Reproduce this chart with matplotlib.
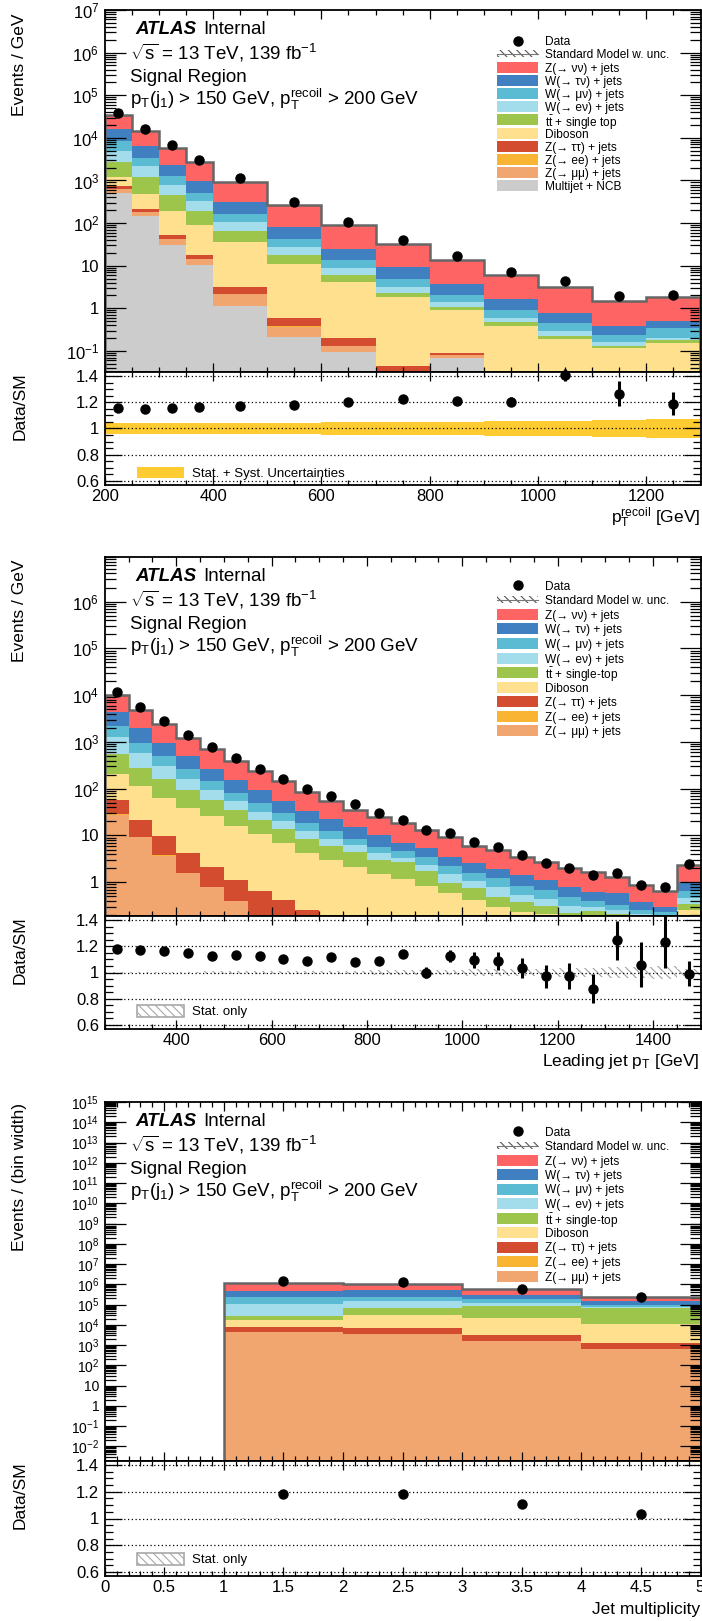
import numpy as np
import matplotlib
matplotlib.use("Agg")
import matplotlib.pyplot as plt
from matplotlib.patches import Rectangle
from matplotlib.lines import Line2D
from matplotlib.ticker import (LogLocator, FuncFormatter, MultipleLocator,
                               NullFormatter, FixedFormatter, FixedLocator)

plt.rcParams['font.family'] = ['Liberation Sans', 'DejaVu Sans']
plt.rcParams['mathtext.fontset'] = 'custom'
plt.rcParams['mathtext.rm'] = 'Liberation Sans'
plt.rcParams['mathtext.it'] = 'Liberation Sans:italic'
plt.rcParams['mathtext.bf'] = 'Liberation Sans:bold'
plt.rcParams['hatch.linewidth'] = 0.8

# ---------------------------------------------------------------- data
# Panel 1 : p_T^recoil
edges1 = [200, 250, 300, 350, 400, 500, 600, 700, 800, 900, 1000, 1100, 1200, 1300]
multijet1 = [500, 144, 30, 10.5, 1.12, 0.21, 0.093, 0, 0.067, 0, 0, 0, 0]
zmm1 = [115, 39, 12, 3.5, 1.0, 0.16, 0.037, 0, 0.014, 0, 0, 0, 0]
zee1 = [3, 1, 0.3, 0.1, 0.02, 0.005, 0.002, 0, 0.001, 0, 0, 0, 0]
ztt1 = [115, 30, 9, 4, 1.0, 0.23, 0.07, 0.045, 0.008, 0, 0, 0, 0]
dib1 = [500, 277, 143, 74, 31.9, 10.4, 4.0, 1.755, 0.82, 0.39, 0.19, 0.118, 0.155]
tt1 = [1470, 740, 272, 102, 30, 7, 1.8, 0.5, 0.16, 0.08, 0.03, 0.012, 0.023]
wev1 = [2200, 900, 324, 129, 40, 9, 2.7, 0.9, 0.31, 0.13, 0.08, 0.036, 0.022]
wmv1 = [3600, 1270, 470, 177, 61, 15, 4.6, 1.7, 0.72, 0.31, 0.16, 0.074, 0.15]
wtv1 = [7500, 2900, 1080, 460, 150, 39, 11.2, 4.2, 1.7, 0.71, 0.32, 0.15, 0.16]
znn1 = [18000, 7800, 3560, 1740, 614, 184, 64.5, 23.9, 10, 4.4, 2.3, 1.13, 1.29]
data1 = [39000, 16200, 6700, 3100, 1120, 308, 107, 41, 17, 7.3, 4.4, 1.95, 2.1]
ratio1 = [1.157, 1.152, 1.157, 1.165, 1.172, 1.177, 1.205, 1.225, 1.213, 1.203, 1.405, 1.266, 1.19]
ratio1_err = [0.006, 0.007, 0.009, 0.01, 0.011, 0.015, 0.017, 0.02, 0.022, 0.034, 0.045, 0.094, 0.09]
band1 = [0.04, 0.04, 0.04, 0.041, 0.042, 0.045, 0.048, 0.05, 0.052, 0.055, 0.058, 0.065, 0.072]

# Panel 2 : leading jet pT
edges2 = list(range(250, 1501, 50))
zmm2 = [28, 9.1, 3.7, 1.55, 0.78, 0.39, 0.2, 0.18, 0.18, 0.1, 0.05, 0.03, 0.02, 0.02, 0.01,
        0.01, 0.01, 0.005, 0.005, 0.005, 0.005, 0.005, 0.005, 0.005, 0.005]
zee2 = [0.3, 0.1, 0.04, 0.02, 0.01, 0.005, 0.003, 0.002, 0.001, 0.001, 0.001, 0.001, 0.001,
        0.001, 0.001, 0.001, 0.001, 0.001, 0.001, 0.001, 0.001, 0.001, 0.001, 0.001, 0.001]
ztt2 = [28, 11.9, 5.8, 2.65, 1.32, 0.73, 0.46, 0.23, 0.08, 0.03, 0.02, 0.01, 0.01, 0.005, 0.005,
        0.005, 0.005, 0.005, 0.005, 0.005, 0.005, 0.005, 0.005, 0.005, 0.005]
dib2 = [154, 94, 54.5, 34.8, 23.9, 14.5, 10.3, 6.5, 3.93, 2.85, 2.05, 1.45, 1.13, 0.8, 0.56,
        0.41, 0.28, 0.22, 0.2, 0.17, 0.15, 0.14, 0.14, 0.13, 0.24]
tt2 = [355, 165, 96, 56, 32, 19.4, 10, 7.1, 4.3, 2.9, 2.3, 1.5, 1.52, 0.93, 0.39,
       0.32, 0.2, 0.14, 0.1, 0.04, 0.08, 0.06, 0.03, 0.02, 0.09]
wev2 = [725, 300, 150, 68, 34, 20, 11, 6, 3.7, 2.7, 1.8, 1.2, 0.7, 0.62, 0.55,
        0.34, 0.29, 0.17, 0.13, 0.09, 0.05, 0.04, 0.03, 0.03, 0.13]
wmv2 = [890, 390, 180, 105, 52, 27, 17, 10, 6.1, 3.7, 2.3, 1.6, 1.2, 1.1, 0.75,
        0.46, 0.42, 0.31, 0.24, 0.17, 0.11, 0.08, 0.05, 0.04, 0.18]
wtv2 = [2220, 1030, 480, 222, 124, 68, 43, 25, 14.7, 9.8, 6.5, 4.7, 2.3, 1.9, 1.2,
        1.02, 0.7, 0.56, 0.46, 0.33, 0.22, 0.25, 0.12, 0.07, 0.34]
znn2 = [5600, 2900, 1480, 740, 422, 240, 142, 88, 52, 32, 20.5, 14, 11.4, 7.6, 5.6,
        3.5, 3.01, 2.05, 1.52, 1.25, 1.02, 0.71, 0.48, 0.36, 1.4]
data2 = [11800, 5600, 2800, 1440, 780, 460, 268, 163, 100, 69, 46, 30, 21.6, 13, 11.2,
         7.2, 5.7, 3.9, 2.6, 2.0, 1.4, 1.56, 0.89, 0.81, 2.4]
ratio2 = [1.18, 1.175, 1.165, 1.15, 1.125, 1.13, 1.125, 1.105, 1.09, 1.115, 1.08, 1.09, 1.14,
          1.0, 1.125, 1.095, 1.09, 1.035, 0.97, 0.975, 0.875, 1.245, 1.06, 1.235, 0.99]
ratio2_err = [0.006, 0.007, 0.008, 0.009, 0.01, 0.011, 0.012, 0.014, 0.016, 0.018, 0.02, 0.023,
              0.03, 0.045, 0.048, 0.06, 0.068, 0.076, 0.087, 0.1, 0.11, 0.15, 0.17, 0.2, 0.096]
stat2 = [0.004, 0.005, 0.006, 0.007, 0.008, 0.009, 0.01, 0.011, 0.012, 0.013, 0.015, 0.016,
         0.018, 0.02, 0.022, 0.024, 0.026, 0.028, 0.03, 0.032, 0.036, 0.04, 0.044, 0.048, 0.03]

# Panel 3 : jet multiplicity
edges3 = [1, 2, 3, 4, 5]
zmm3 = [4500, 3400, 1660, 650]
zee3 = [50, 40, 20, 8]
ztt3 = [3600, 3300, 1540, 580]
dib3 = [9900, 23300, 17800, 9800]
tt3 = [8000, 36000, 66000, 55000]
wev3 = [79000, 76000, 30000, 12000]
wmv3 = [135000, 108000, 66000, 19000]
wtv3 = [230000, 260000, 117000, 53000]
znn3 = [730000, 560000, 260000, 90000]
data3 = [1.4e6, 1.26e6, 6.2e5, 2.5e5]
ratio3 = [1.18, 1.18, 1.105, 1.03]
ratio3_err = [0.002, 0.002, 0.003, 0.004]
stat3 = [0.002, 0.002, 0.003, 0.004]

# ratio-panel tick labels
ratio_ticks = [0.6, 0.8, 1.0, 1.2, 1.4]
ratio_ticklabels = ['0.6', '0.8', '1', '1.2', '1.4']

# ---------------------------------------------------------------- style
C_ZNN = '#FE6464'
C_WTV = '#4080C0'
C_WMV = '#5BBBD3'
C_WEV = '#A3DCEA'
C_TT = '#9DC54C'
C_DIB = '#FEE08F'
C_ZTT = '#D44C30'
C_ZEE = '#F9B433'
C_ZMM = '#F2A66F'
C_MJ = '#CCCCCC'
C_BAND = '#FECB30'

LBL_ZNN = 'Z(\u2192 \u03bd\u03bd) + jets'
LBL_WTV = 'W(\u2192 \u03c4\u03bd) + jets'
LBL_WMV = 'W(\u2192 \u03bc\u03bd) + jets'
LBL_WEV = 'W(\u2192 e\u03bd) + jets'
LBL_DIB = 'Diboson'
LBL_ZTT = 'Z(\u2192 \u03c4\u03c4) + jets'
LBL_ZEE = 'Z(\u2192 ee) + jets'
LBL_ZMM = 'Z(\u2192 \u03bc\u03bc) + jets'
LBL_MJ = 'Multijet + NCB'

W, H = 702, 1621
fig = plt.figure(figsize=(W / 100, H / 100), dpi=100)
LEFT, RIGHT = 104.7, 700.5
SPINE = 1.3


def fx(x):
    return x / W


def fy(y):
    return 1 - y / H


def make_axes(top, bottom):
    return fig.add_axes([LEFT / W, 1 - bottom / H, (RIGHT - LEFT) / W, (bottom - top) / H])


def log_label(v, pos):
    if v <= 0:
        return ''
    e = int(round(np.log10(v)))
    if e == 0:
        return '1'
    if e == 1:
        return '10'
    return r'$10^{%d}$' % e


def style_main(ax, xlim, ylim, xmaj, xmin, ylabsize=12):
    ax.set_yscale('log')
    ax.set_xlim(*xlim)
    ax.set_ylim(*ylim)
    ax.yaxis.set_major_locator(LogLocator(base=10, numticks=100))
    ax.yaxis.set_minor_locator(LogLocator(base=10, subs=np.arange(2, 10), numticks=100))
    ax.yaxis.set_major_formatter(FuncFormatter(log_label))
    ax.yaxis.set_minor_formatter(NullFormatter())
    ax.xaxis.set_major_locator(MultipleLocator(xmaj))
    ax.xaxis.set_minor_locator(MultipleLocator(xmin))
    ax.tick_params(axis='both', which='both', direction='in', top=True, right=True, width=0.9)
    ax.tick_params(axis='y', which='major', length=15, labelsize=ylabsize, pad=4)
    ax.tick_params(axis='y', which='minor', length=8)
    ax.tick_params(axis='x', which='major', length=6.5, labelbottom=False)
    ax.tick_params(axis='x', which='minor', length=3.6)
    for s in ax.spines.values():
        s.set_linewidth(SPINE)


def style_ratio(ax, xlim, xticks, xlabels, xmin):
    ax.set_xlim(*xlim)
    ax.set_ylim(0.57, 1.43)
    ax.yaxis.set_major_locator(FixedLocator(ratio_ticks))
    ax.yaxis.set_major_formatter(FixedFormatter(ratio_ticklabels))
    ax.yaxis.set_minor_locator(MultipleLocator(0.05))
    ax.xaxis.set_major_locator(FixedLocator(xticks))
    ax.xaxis.set_major_formatter(FixedFormatter(xlabels))
    ax.xaxis.set_minor_locator(MultipleLocator(xmin))
    ax.tick_params(axis='both', which='both', direction='in', top=True, right=True, width=0.9)
    ax.tick_params(axis='y', which='major', length=12, labelsize=12, pad=4)
    ax.tick_params(axis='y', which='minor', length=5.8)
    ax.tick_params(axis='x', which='major', length=6.5, labelsize=12, pad=3)
    ax.tick_params(axis='x', which='minor', length=3.6)
    for v in ratio_ticks:
        ax.axhline(v, color='black', lw=0.9, ls=(0, (1, 2)), zorder=3)
    for s in ax.spines.values():
        s.set_linewidth(SPINE)


def draw_stack(ax, edges, layers, floor):
    bottom = np.full(len(edges) - 1, floor)
    for vals, col in layers:
        top = bottom + np.asarray(vals, dtype=float)
        ax.stairs(top, edges, baseline=bottom, fill=True, color=col, lw=0, zorder=1)
        bottom = top
    ax.stairs(bottom, edges, baseline=floor, fill=False, color='#666666', lw=1.8, zorder=2)


def draw_texts(top):
    fig.text(fx(135), fy(top + 24), 'ATLAS', fontsize=13.5, fontweight='bold',
             style='italic', va='baseline', ha='left')
    fig.text(fx(203), fy(top + 24), 'Internal', fontsize=13.5, va='baseline', ha='left')
    fig.text(fx(130), fy(top + 49), r'$\sqrt{\mathrm{s}}$ = 13 TeV, 139 fb$^{\mathrm{-1}}$',
             fontsize=13.5, va='baseline', ha='left')
    fig.text(fx(130), fy(top + 72), 'Signal Region', fontsize=13.5, va='baseline', ha='left')
    fig.text(fx(130), fy(top + 95),
             r'p$_{\mathrm{T}}$(j$_{\mathrm{1}}$) > 150 GeV, p$_{\mathrm{T}}^{\mathrm{recoil}}$ > 200 GeV',
             fontsize=13.5, va='baseline', ha='left')


def draw_legend(top, first, step, entries):
    for i, (kind, label, col) in enumerate(entries):
        yc = top + first + i * step
        if kind == 'data':
            fig.add_artist(Line2D([fx(517.7)], [fy(yc)], marker='o', color='black', ms=6.5,
                                  ls='none', transform=fig.transFigure))
        elif kind == 'hatch':
            fig.add_artist(Rectangle((fx(497), fy(yc + 3.5)), 41 / W, 7 / H, facecolor='none',
                                     edgecolor='#555555', hatch='\\\\\\\\', lw=0,
                                     transform=fig.transFigure))
            fig.add_artist(Line2D([fx(497), fx(538)], [fy(yc), fy(yc)], color='#777777',
                                  lw=0.8, transform=fig.transFigure))
        else:
            fig.add_artist(Rectangle((fx(497), fy(yc + 5.5)), 41 / W, 11 / H, facecolor=col,
                                     edgecolor='none', transform=fig.transFigure))
        fig.text(fx(545), fy(yc), label, fontsize=8.6, va='center_baseline', ha='left')


def ratio_legend(yc, label, kind):
    if kind == 'syst':
        fig.add_artist(Rectangle((fx(136.5), fy(yc + 5)), 47 / W, 10 / H, facecolor=C_BAND,
                                 edgecolor='none', transform=fig.transFigure))
    else:
        fig.add_artist(Rectangle((fx(136.5), fy(yc + 6)), 47 / W, 12 / H, facecolor='white',
                                 edgecolor='#A8A8A8', hatch='\\\\\\\\', lw=1.2,
                                 transform=fig.transFigure))
    fig.text(fx(192.5), fy(yc), label, fontsize=9.5, va='center_baseline', ha='left')


def centers(edges):
    e = np.asarray(edges, dtype=float)
    return 0.5 * (e[1:] + e[:-1])


# ================================================================ panel 1
T1, M1, B1 = 10, 372, 485
ax1 = make_axes(T1, M1)
draw_stack(ax1, edges1, [(multijet1, C_MJ), (zmm1, C_ZMM), (zee1, C_ZEE), (ztt1, C_ZTT),
                         (dib1, C_DIB), (tt1, C_TT), (wev1, C_WEV), (wmv1, C_WMV),
                         (wtv1, C_WTV), (znn1, C_ZNN)], 1e-9)
ax1.plot(centers(edges1), data1, 'o', color='black', ms=6.5, zorder=5)
style_main(ax1, (200, 1300), (0.032, 1e7), 200, 50)

r1 = make_axes(M1, B1)
r1.stairs(1 + np.array(band1), edges1, baseline=1 - np.array(band1), fill=True,
          color=C_BAND, lw=0, zorder=1)
xt1 = [200, 400, 600, 800, 1000, 1200]
style_ratio(r1, (200, 1300), xt1, [str(v) for v in xt1], 50)
r1.errorbar(centers(edges1), ratio1, yerr=ratio1_err, fmt='o', color='black', ms=6.5,
            elinewidth=2.2, capsize=0, zorder=5, clip_on=False)

draw_texts(T1)
draw_legend(T1, 30.7, 13.2, [
    ('data', 'Data', None), ('hatch', 'Standard Model w. unc.', None),
    ('box', LBL_ZNN, C_ZNN), ('box', LBL_WTV, C_WTV), ('box', LBL_WMV, C_WMV),
    ('box', LBL_WEV, C_WEV), ('box', r'$\mathrm{t\bar{t}}$ + single top', C_TT),
    ('box', LBL_DIB, C_DIB), ('box', LBL_ZTT, C_ZTT), ('box', LBL_ZEE, C_ZEE),
    ('box', LBL_ZMM, C_ZMM), ('box', LBL_MJ, C_MJ)])
ratio_legend(472.5, 'Stat. + Syst. Uncertainties', 'syst')
fig.text(fx(20), fy(T1 + 3), 'Events / GeV', rotation=90, fontsize=12.5, ha='center', va='top')
fig.text(fx(20), fy(M1), 'Data/SM', rotation=90, fontsize=12.5, ha='center', va='top')
fig.text(fx(700), fy(B1 + 38), r'p$_{\mathrm{T}}^{\mathrm{recoil}}$ [GeV]', fontsize=12.5,
         ha='right', va='baseline')

# ================================================================ panel 2
T2, M2, B2 = 557, 916, 1029
ax2 = make_axes(T2, M2)
draw_stack(ax2, edges2, [(zmm2, C_ZMM), (zee2, C_ZEE), (ztt2, C_ZTT), (dib2, C_DIB),
                         (tt2, C_TT), (wev2, C_WEV), (wmv2, C_WMV), (wtv2, C_WTV),
                         (znn2, C_ZNN)], 1e-9)
ax2.plot(centers(edges2), data2, 'o', color='black', ms=6.5, zorder=5)
style_main(ax2, (250, 1500), (0.19, 9e6), 200, 50)

r2 = make_axes(M2, B2)
r2.stairs(1 + np.array(stat2), edges2, baseline=1 - np.array(stat2), fill=True,
          facecolor='none', edgecolor='#A0A0A0', hatch='\\\\\\\\', lw=0, zorder=1)
xt2 = [400, 600, 800, 1000, 1200, 1400]
style_ratio(r2, (250, 1500), xt2, [str(v) for v in xt2], 50)
r2.errorbar(centers(edges2), ratio2, yerr=ratio2_err, fmt='o', color='black', ms=6.5,
            elinewidth=2.2, capsize=0, zorder=5)

draw_texts(T2)
legend23 = [
    ('data', 'Data', None), ('hatch', 'Standard Model w. unc.', None),
    ('box', LBL_ZNN, C_ZNN), ('box', LBL_WTV, C_WTV), ('box', LBL_WMV, C_WMV),
    ('box', LBL_WEV, C_WEV), ('box', r'$\mathrm{t\bar{t}}$ + single-top', C_TT),
    ('box', LBL_DIB, C_DIB), ('box', LBL_ZTT, C_ZTT), ('box', LBL_ZEE, C_ZEE),
    ('box', LBL_ZMM, C_ZMM)]
draw_legend(T2, 28.3, 14.55, legend23)
ratio_legend(1011, 'Stat. only', 'stat')
fig.text(fx(20), fy(T2 + 3), 'Events / GeV', rotation=90, fontsize=12.5, ha='center', va='top')
fig.text(fx(20), fy(M2), 'Data/SM', rotation=90, fontsize=12.5, ha='center', va='top')
fig.text(fx(700), fy(B2 + 37), r'Leading jet p$_{\mathrm{T}}$ [GeV]', fontsize=12.5,
         ha='right', va='baseline')

# ================================================================ panel 3
T3, M3, B3 = 1102, 1461, 1576
ax3 = make_axes(T3, M3)
draw_stack(ax3, edges3, [(zmm3, C_ZMM), (zee3, C_ZEE), (ztt3, C_ZTT), (dib3, C_DIB),
                         (tt3, C_TT), (wev3, C_WEV), (wmv3, C_WMV), (wtv3, C_WTV),
                         (znn3, C_ZNN)], 1e-9)
ax3.plot(centers(edges3), data3, 'o', color='black', ms=6.5, zorder=5)
style_main(ax3, (0, 5), (0.0019, 1e15), 0.5, 0.1, ylabsize=10)

r3 = make_axes(M3, B3)
r3.stairs(1 + np.array(stat3), edges3, baseline=1 - np.array(stat3), fill=True,
          facecolor='none', edgecolor='#A0A0A0', hatch='\\\\\\\\', lw=0, zorder=1)
xt3 = [0, 0.5, 1, 1.5, 2, 2.5, 3, 3.5, 4, 4.5, 5]
style_ratio(r3, (0, 5), xt3, ['%g' % v for v in xt3], 0.1)
r3.errorbar(centers(edges3), ratio3, yerr=ratio3_err, fmt='o', color='black', ms=6.5,
            elinewidth=2.2, capsize=0, zorder=5)

draw_texts(T3)
draw_legend(T3, 29, 14.5, legend23)
ratio_legend(1559, 'Stat. only', 'stat')
fig.text(fx(20), fy(T3 + 1), 'Events / (bin width)', rotation=90, fontsize=12.5,
         ha='center', va='top')
fig.text(fx(20), fy(M3), 'Data/SM', rotation=90, fontsize=12.5, ha='center', va='top')
fig.text(fx(700), fy(B3 + 38), 'Jet multiplicity', fontsize=12.5, ha='right', va='baseline')

fig.savefig('out.png', dpi=100)
